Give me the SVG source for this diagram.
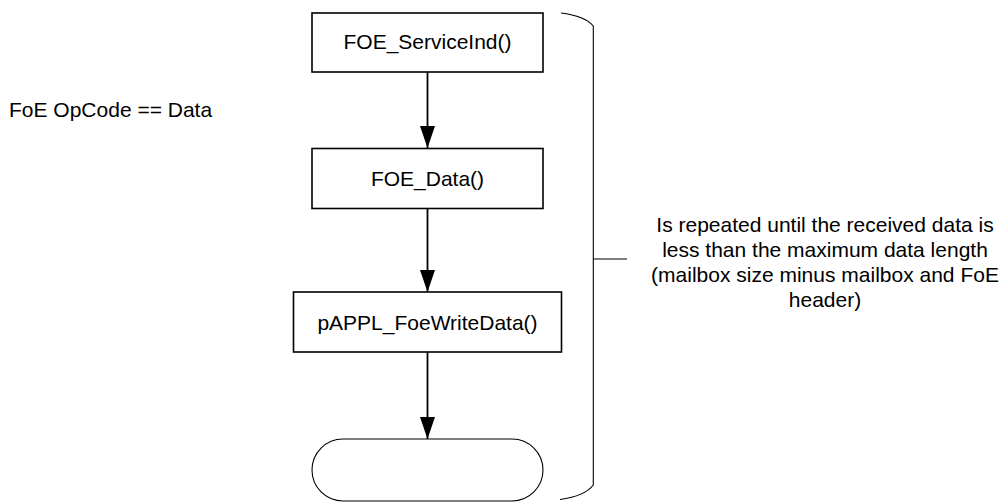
<svg xmlns="http://www.w3.org/2000/svg" width="1003" height="502" viewBox="0 0 1003 502">
<style>
text{font-family:"Liberation Sans",Arial,sans-serif;font-size:21px;fill:#000}
.box{fill:#fff;stroke:#000;stroke-width:1.6}
.term{fill:#fff;stroke:#000;stroke-width:1.1}
.con{stroke:#000;stroke-width:1.8;fill:none}
.br{stroke:#000;stroke-width:1.1;fill:none}
</style>
<defs>
<marker id="ah" markerUnits="userSpaceOnUse" markerWidth="22" markerHeight="15" refX="22" refY="7.5" orient="auto" viewBox="0 0 22 15">
<path d="M0,0 L22,7.5 L0,15 Z" fill="#000"/>
</marker>
</defs>
<rect width="1003" height="502" fill="#fff"/>
<g id="connectors">
<line class="con" x1="427.5" y1="72" x2="427.5" y2="148" marker-end="url(#ah)"/>
<line class="con" x1="427.5" y1="208" x2="427.5" y2="292" marker-end="url(#ah)"/>
<line class="con" x1="427.5" y1="352" x2="427.5" y2="439" marker-end="url(#ah)"/>
</g>
<g id="n1">
<rect class="box" x="312" y="13" width="231" height="59"/>
<text x="427.5" y="49" text-anchor="middle">FOE_ServiceInd()</text>
</g>
<g id="n2">
<rect class="box" x="312" y="148.5" width="231" height="60"/>
<text x="427.5" y="185.5" text-anchor="middle">FOE_Data()</text>
</g>
<g id="n3">
<rect class="box" x="293.5" y="292" width="268" height="60"/>
<text x="427.5" y="329.5" text-anchor="middle">pAPPL_FoeWriteData()</text>
</g>
<g id="n4">
<rect class="term" x="312" y="439" width="231" height="62" rx="31" ry="31"/>
</g>
<g id="bracket">
<path class="br" d="M561,13 Q585,16 593.3,26 L593.3,485 Q585,496 560,499.5"/>
<line class="br" x1="593.3" y1="259" x2="627" y2="259"/>
</g>
<g id="label-opcode">
<text x="9" y="116.5">FoE OpCode == Data</text>
</g>
<g id="label-repeat">
<text x="825" y="232" text-anchor="middle">Is repeated until the received data is</text>
<text x="825" y="257" text-anchor="middle">less than the maximum data length</text>
<text x="825" y="282" text-anchor="middle">(mailbox size minus mailbox and FoE</text>
<text x="825" y="307" text-anchor="middle">header)</text>
</g>
</svg>
